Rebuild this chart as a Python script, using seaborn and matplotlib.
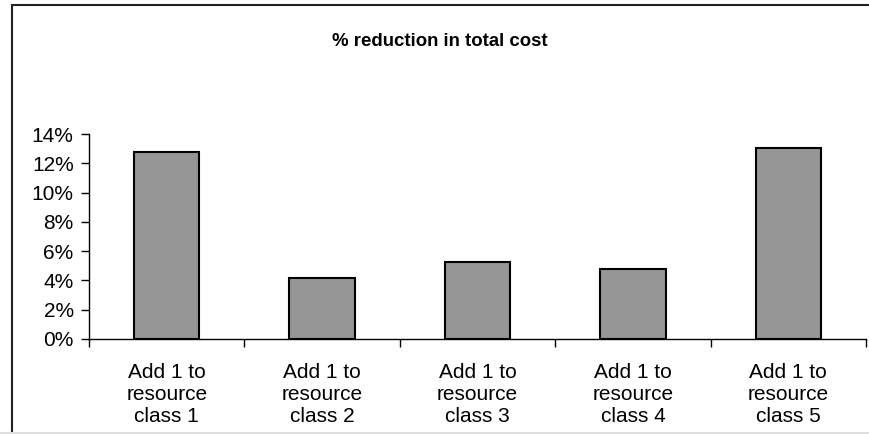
import matplotlib
matplotlib.use("Agg")
import matplotlib.pyplot as plt
from matplotlib.patches import Rectangle
from matplotlib.lines import Line2D
from matplotlib.ticker import PercentFormatter, FixedLocator
import seaborn as sns
import pandas as pd

# Cost-reduction results per resource class
categories = [
    "Add 1 to\nresource\nclass 1",
    "Add 1 to\nresource\nclass 2",
    "Add 1 to\nresource\nclass 3",
    "Add 1 to\nresource\nclass 4",
    "Add 1 to\nresource\nclass 5",
]
reduction = [0.128, 0.0415, 0.0528, 0.0476, 0.1305]
y_ticks = [0.0, 0.02, 0.04, 0.06, 0.08, 0.10, 0.12, 0.14]

df = pd.DataFrame({"scenario": categories, "reduction": reduction})

sns.set_theme(style="white")
plt.rcParams["font.family"] = ["Liberation Sans", "DejaVu Sans"]

fig = plt.figure(figsize=(8.7, 4.34), dpi=100)
ax = fig.add_axes([89 / 870, 1 - 339 / 434, (866 - 89) / 870, (339 - 134) / 434])

sns.barplot(data=df, x="scenario", y="reduction", color="#969696",
            saturation=1, width=0.42, edgecolor="black", linewidth=1.5, ax=ax)

ax.set_ylim(0, 0.14)
ax.set_xlim(-0.5, len(categories) - 0.5)
ax.yaxis.set_major_locator(FixedLocator(y_ticks))
ax.yaxis.set_major_formatter(PercentFormatter(xmax=1, decimals=0))
ax.set_xlabel("")
ax.set_ylabel("")

for side in ["top", "right"]:
    ax.spines[side].set_visible(False)
for side in ["left", "bottom"]:
    ax.spines[side].set_color("black")
    ax.spines[side].set_linewidth(1.0)

# category boundaries carry the x ticks
ax.set_xticks([i - 0.5 for i in range(len(categories) + 1)], minor=True)
ax.tick_params(axis="x", which="major", length=0, pad=17, labelsize=15,
               colors="black")
ax.tick_params(axis="x", which="minor", length=6, width=1, color="black",
               direction="out", bottom=True)
ax.tick_params(axis="y", which="major", length=6, width=1, color="black",
               direction="out", left=True, pad=5, labelsize=15,
               labelcolor="black")
for lbl in ax.get_xticklabels():
    lbl.set_linespacing(1.2)
    lbl.set_horizontalalignment("center")

fig.text(440 / 870, 1 - 41 / 434, "% reduction in total cost",
         ha="center", va="center", fontsize=13.4, fontweight="bold",
         color="black")

# chart frame
fig.patches.append(Rectangle((12 / 870, -0.1), 1.2, 1 - 5 / 434 + 0.1,
                             transform=fig.transFigure, fill=False,
                             edgecolor="#222222", linewidth=1.5))
fig.lines.append(Line2D([0, 1], [1 - 433 / 434, 1 - 433 / 434],
                        transform=fig.transFigure, color="#dddddd",
                        linewidth=1.5))

fig.savefig("out.png", dpi=100, facecolor="white")
